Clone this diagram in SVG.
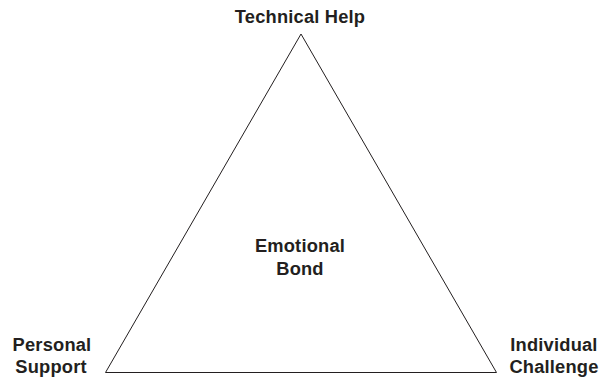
<svg xmlns="http://www.w3.org/2000/svg" width="602" height="378" viewBox="0 0 602 378">
<style>
text{font-family:"Liberation Sans",Arial,sans-serif;font-weight:bold;font-size:18.3px;letter-spacing:0.2px;fill:#231f20;text-anchor:middle}
.edge{fill:none;stroke:#231f20;stroke-width:1}
</style>
<rect width="602" height="378" fill="#fff"/>
<g id="connectors">
<path class="edge" d="M301,34 L105.5,372.5 L496.5,372.5 Z"/>
</g>
<g id="technical-help"><text x="300" y="23">Technical Help</text></g>
<g id="personal-support"><text x="52" y="351">Personal</text><text x="51" y="373">Support</text></g>
<g id="individual-challenge"><text x="554" y="351">Individual</text><text x="554" y="373">Challenge</text></g>
<g id="emotional-bond"><text x="300" y="252">Emotional</text><text x="300" y="275">Bond</text></g>
</svg>
